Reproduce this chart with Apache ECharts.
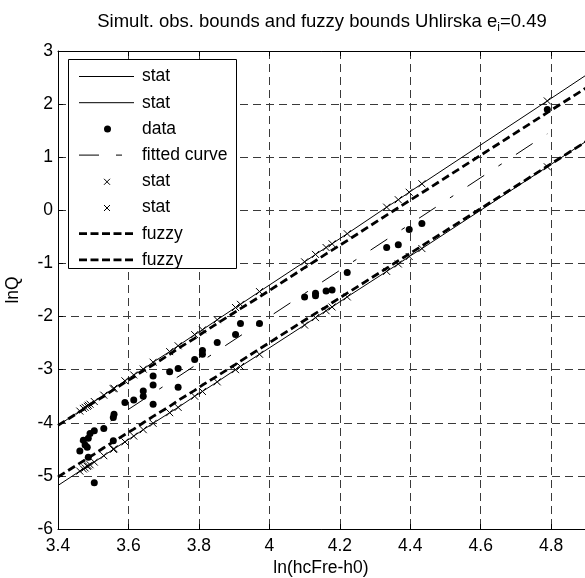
<!DOCTYPE html>
<html>
<head>
<meta charset="utf-8">
<script src="https://cdn.jsdelivr.net/npm/echarts@6/dist/echarts.min.js"></script>
<style>
  html, body { margin: 0; padding: 0; background: #fff; }
  #chart { width: 585px; height: 578px; }
</style>
</head>
<body>
<div id="chart"></div>
<script>
// Observed points: x = ln(hcFre-h0), y = lnQ
const dataX = [3.462, 3.472, 3.477, 3.483, 3.486, 3.486, 3.491, 3.503, 3.503, 3.530,
               3.557, 3.557, 3.559, 3.590, 3.615, 3.642, 3.642, 3.670, 3.670, 3.670,
               3.717, 3.741, 3.741, 3.788, 3.810, 3.810, 3.852, 3.904, 3.918, 3.972,
               4.100, 4.131, 4.131, 4.161, 4.178, 4.221, 4.333, 4.366, 4.397, 4.433, 4.789];
const dataY = [-4.53, -4.33, -4.42, -4.46, -4.29, -4.65, -4.20, -4.15, -5.13, -4.11,
               -4.34, -3.90, -3.84, -3.62, -3.57, -3.50, -3.40, -3.65, -3.29, -3.12,
               -3.04, -2.98, -3.33, -2.81, -2.64, -2.71, -2.49, -2.34, -2.13, -2.13,
               -1.63, -1.56, -1.61, -1.52, -1.50, -1.17, -0.70, -0.65, -0.36, -0.25, 1.90];

// Abscissae of the bound curves (plot edges plus every distinct observed x)
const boundX = [3.400, 3.462, 3.472, 3.477, 3.483, 3.486, 3.491, 3.503, 3.530, 3.557,
                3.559, 3.590, 3.615, 3.642, 3.670, 3.717, 3.741, 3.788, 3.810, 3.852,
                3.904, 3.918, 3.972, 4.100, 4.131, 4.161, 4.178, 4.221, 4.333, 4.366,
                4.397, 4.433, 4.789, 4.950];
// Simultaneous statistical bounds
const statUpper = [-4.05, -3.78, -3.73, -3.71, -3.69, -3.67, -3.65, -3.60, -3.48, -3.36,
                   -3.35, -3.21, -3.10, -2.99, -2.86, -2.66, -2.55, -2.34, -2.25, -2.06,
                   -1.83, -1.77, -1.53, -0.97, -0.83, -0.70, -0.63, -0.44, 0.06, 0.20,
                   0.34, 0.50, 2.06, 2.77];
const statLower = [-5.18, -4.91, -4.87, -4.85, -4.82, -4.81, -4.79, -4.74, -4.62, -4.50,
                   -4.49, -4.36, -4.25, -4.13, -4.01, -3.81, -3.71, -3.50, -3.41, -3.23,
                   -3.00, -2.94, -2.71, -2.16, -2.02, -1.89, -1.82, -1.63, -1.15, -1.01,
                   -0.87, -0.72, 0.82, 1.52];
// Fuzzy bounds
const fuzzyUpper = [-4.05, -3.79, -3.75, -3.72, -3.70, -3.69, -3.66, -3.61, -3.50, -3.38,
                    -3.38, -3.24, -3.14, -3.02, -2.91, -2.71, -2.60, -2.41, -2.31, -2.13,
                    -1.91, -1.85, -1.63, -1.08, -0.95, -0.82, -0.75, -0.57, -0.09, 0.05,
                    0.18, 0.33, 1.84, 2.52];
const fuzzyLower = [-5.02, -4.76, -4.72, -4.70, -4.67, -4.66, -4.64, -4.59, -4.47, -4.36,
                    -4.35, -4.22, -4.12, -4.00, -3.88, -3.69, -3.58, -3.39, -3.29, -3.12,
                    -2.90, -2.84, -2.61, -2.07, -1.94, -1.82, -1.74, -1.56, -1.09, -0.95,
                    -0.82, -0.67, 0.83, 1.51];
// Fitted regression line end points
const fitX = [3.462, 4.789];
const fitY = [-4.35, 1.44];

// Axis ranges and ticks
const xMin = 3.4, xMax = 4.896, xStep = 0.2;
const yMin = -6, yMax = 3, yStep = 1;

const FONT = '"Liberation Sans", Arial, Helvetica, sans-serif';
const BLACK = '#000';

const pairs = (xs, ys) => xs.map((x, i) => [x, ys[i]]);
const inner = arr => arr.slice(1, arr.length - 1);

const crossSymbol = 'path://M0,0L10,10M10,0L0,10';

const chart = echarts.init(document.getElementById('chart'), null, { renderer: 'canvas' });

const axisCommon = {
  type: 'value',
  axisLine: { show: true, onZero: false, lineStyle: { color: BLACK, width: 1 } },
  axisTick: { show: true, inside: true, length: 5, lineStyle: { color: BLACK, width: 1 } }
};

const option = {
  animation: false,
  backgroundColor: '#fff',
  grid: { left: 58, top: 51, width: 528, height: 478, containLabel: false },
  xAxis: [
    Object.assign({}, axisCommon, {
      position: 'bottom', min: xMin, max: xMax, interval: xStep,
      axisLabel: {
        color: BLACK, fontSize: 17.5, fontFamily: FONT, margin: 8,
        showMaxLabel: false,
        formatter: v => String(+(+v).toFixed(1))
      },
      splitLine: { show: true, lineStyle: { color: '#3a3a3a', width: 1, type: [8, 5] } }
    }),
    Object.assign({}, axisCommon, {
      position: 'top', min: xMin, max: xMax, interval: xStep,
      axisLabel: { show: false }, splitLine: { show: false }
    })
  ],
  yAxis: [
    Object.assign({}, axisCommon, {
      position: 'left', min: yMin, max: yMax, interval: yStep,
      axisLabel: { color: BLACK, fontSize: 17.5, fontFamily: FONT, margin: 5,
                   formatter: v => String(v) },
      splitLine: { show: true, lineStyle: { color: '#3a3a3a', width: 1, type: [8, 5] } }
    })
  ],
  series: [
    { name: 'stat', type: 'line', data: pairs(boundX, statUpper), symbol: 'none',
      lineStyle: { color: BLACK, width: 1 }, silent: true, z: 3 },
    { name: 'stat2', type: 'line', data: pairs(boundX, statLower), symbol: 'none',
      lineStyle: { color: BLACK, width: 1 }, silent: true, z: 3 },
    { name: 'data', type: 'scatter', data: pairs(dataX, dataY), symbol: 'circle', symbolSize: 7,
      itemStyle: { color: BLACK, opacity: 1 }, silent: true, z: 4 },
    { name: 'fitted curve', type: 'line', data: pairs(fitX, fitY), symbol: 'none',
      lineStyle: { color: BLACK, width: 1, type: [20, 17, 4, 17] }, silent: true, z: 3 },
    { name: 'statMarks', type: 'scatter', data: pairs(inner(boundX), inner(statUpper)),
      symbol: crossSymbol, symbolSize: 7,
      itemStyle: { color: 'transparent', borderColor: BLACK, borderWidth: 1, opacity: 1 }, silent: true, z: 4 },
    { name: 'statMarks2', type: 'scatter', data: pairs(inner(boundX), inner(statLower)),
      symbol: crossSymbol, symbolSize: 7,
      itemStyle: { color: 'transparent', borderColor: BLACK, borderWidth: 1, opacity: 1 }, silent: true, z: 4 },
    { name: 'fuzzy', type: 'line', data: pairs(boundX, fuzzyUpper), symbol: 'none',
      lineStyle: { color: BLACK, width: 2.8, type: [8, 4] }, silent: true, z: 5 },
    { name: 'fuzzy2', type: 'line', data: pairs(boundX, fuzzyLower), symbol: 'none',
      lineStyle: { color: BLACK, width: 2.8, type: [8, 4] }, silent: true, z: 5 }
  ]
};

// Legend box with its own samples (two entries share the name "stat", two share "fuzzy")
const legendRows = [
  { label: 'stat', kind: 'solid' },
  { label: 'stat', kind: 'solid' },
  { label: 'data', kind: 'dot' },
  { label: 'fitted curve', kind: 'dashdot' },
  { label: 'stat', kind: 'cross' },
  { label: 'stat', kind: 'cross' },
  { label: 'fuzzy', kind: 'dash' },
  { label: 'fuzzy', kind: 'dash' }
];
const legend = { x: 68.5, y: 59.5, w: 168, h: 209, rowTop: 76.5, rowStep: 26.2,
                 sampleX0: 79, sampleX1: 134, textX: 142 };
const LZ = 100;

const legendElems = [{
  type: 'rect', z: LZ, shape: { x: legend.x, y: legend.y, width: legend.w, height: legend.h },
  style: { fill: '#fff', stroke: BLACK, lineWidth: 1 }
}];
legendRows.forEach((row, i) => {
  const cy = legend.rowTop + i * legend.rowStep;
  const mid = (legend.sampleX0 + legend.sampleX1) / 2;
  if (row.kind === 'solid' || row.kind === 'dashdot' || row.kind === 'dash') {
    const style = { stroke: BLACK, lineWidth: 1 };
    if (row.kind === 'dashdot') style.lineDash = [20, 17, 6, 50];
    if (row.kind === 'dash') { style.lineWidth = 2.8; style.lineDash = [8, 3.5]; }
    legendElems.push({ type: 'line', z: LZ + 1,
      shape: { x1: legend.sampleX0, y1: cy, x2: legend.sampleX1, y2: cy }, style });
  } else if (row.kind === 'dot') {
    legendElems.push({ type: 'circle', z: LZ + 1, shape: { cx: mid + 1, cy: cy, r: 3.5 },
      style: { fill: BLACK } });
  } else if (row.kind === 'cross') {
    legendElems.push({ type: 'polyline', z: LZ + 1,
      shape: { points: [[mid - 2.5, cy - 2.5], [mid + 3.5, cy + 3.5]] }, style: { stroke: BLACK, lineWidth: 1 } });
    legendElems.push({ type: 'polyline', z: LZ + 1,
      shape: { points: [[mid + 3.5, cy - 2.5], [mid - 2.5, cy + 3.5]] }, style: { stroke: BLACK, lineWidth: 1 } });
  }
  legendElems.push({ type: 'text', z: LZ + 1, x: legend.textX, y: cy,
    style: { text: row.label, fill: BLACK, font: '17.5px ' + FONT,
             textAlign: 'left', textVerticalAlign: 'middle' } });
});

option.graphic = [
  { type: 'group', z: LZ, children: legendElems },
  // Title with subscript
  { type: 'text', z: LZ, x: 322, y: 22,
    style: {
      text: 'Simult. obs. bounds and fuzzy bounds Uhlirska e{s|i}=0.49',
      fill: BLACK, font: '18.5px ' + FONT, textAlign: 'center', textVerticalAlign: 'middle',
      rich: { s: { fontSize: 12, fontFamily: FONT, fill: BLACK, padding: [11, 0, 0, 0] } }
    } },
  // Axis titles
  { type: 'text', z: LZ, x: 321, y: 568,
    style: { text: 'ln(hcFre-h0)', fill: BLACK, font: '17.5px ' + FONT,
             textAlign: 'center', textVerticalAlign: 'middle' } },
  { type: 'text', z: LZ, x: 13, y: 290, rotation: Math.PI / 2,
    style: { text: 'lnQ', fill: BLACK, font: '17.5px ' + FONT,
             textAlign: 'center', textVerticalAlign: 'middle' } }
];

chart.setOption(option);
</script>
</body>
</html>
